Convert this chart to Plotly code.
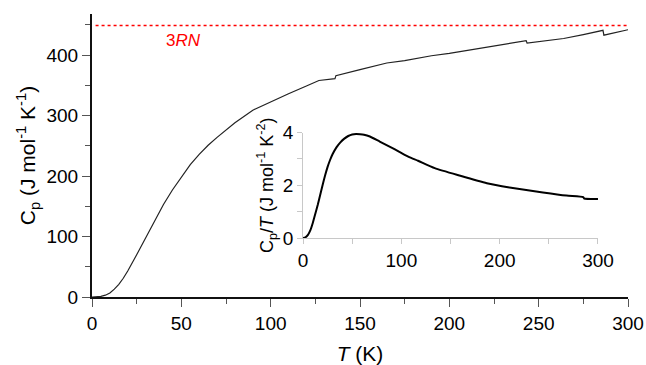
import plotly.graph_objects as go

# Heat capacity C_p(T)
temp_k = [0, 2.5, 5, 7.5, 10, 12.5, 15, 17.5, 20, 25, 30, 35, 40, 45, 50, 55, 60, 65, 70,
          80, 90, 100, 110, 120, 127, 136, 136.5, 150, 165, 175, 190, 200, 212, 225,
          243, 243.5, 264, 275, 286, 286.5, 300]
cp = [0, 0.2, 1, 3, 6.5, 13, 21, 31, 43, 70, 98, 127, 153, 177, 199, 219, 236, 251, 264,
      288, 309, 323, 336, 349, 358, 361, 366, 376, 387, 391, 399, 403, 409, 415,
      424, 420, 427.5, 434, 441, 433, 442]

# C_p / T (inset)
temp_inset = [0, 2.5, 5, 7.5, 10, 12.5, 15, 17.5, 20, 22.5, 25, 27.5, 30, 34, 38, 42, 46,
              50, 54, 58, 62, 68, 78, 88, 98, 108, 117, 134, 160, 187, 210, 244, 268,
              285, 286, 300]
cp_over_t = [0, 0.03, 0.12, 0.3, 0.58, 0.92, 1.26, 1.64, 2.02, 2.38, 2.7, 2.96, 3.18, 3.44,
             3.63, 3.77, 3.87, 3.93, 3.95, 3.94, 3.92, 3.85, 3.66, 3.47, 3.27, 3.07, 2.93,
             2.65, 2.36, 2.08, 1.92, 1.73, 1.61, 1.55, 1.50, 1.48]

# 3RN limit
limit_value = 449
limit_t = [2, 300]

x_ticks = [0, 50, 100, 150, 200, 250, 300]
y_ticks = [0, 100, 200, 300, 400]
inset_x_ticks = [0, 100, 200, 300]
inset_y_ticks = [0, 2, 4]

FONT = "Liberation Sans, Arial, sans-serif"
RED = "#ff0000"

fig = go.Figure()

fig.add_trace(go.Scatter(
    x=temp_k, y=cp, mode="lines",
    line=dict(color="#222222", width=1.2),
    xaxis="x", yaxis="y"))

fig.add_trace(go.Scatter(
    x=limit_t, y=[limit_value] * len(limit_t), mode="lines",
    line=dict(color=RED, width=1.4, dash="dot"),
    xaxis="x", yaxis="y", hoverinfo="skip"))

fig.add_trace(go.Scatter(
    x=temp_inset, y=cp_over_t, mode="lines",
    line=dict(color="#000000", width=2, shape="spline", smoothing=0.6),
    xaxis="x2", yaxis="y2"))

main_axis = dict(
    showline=True, linecolor="#111111", linewidth=2, mirror=False,
    showgrid=False, zeroline=False, automargin=False,
    ticks="outside", ticklen=8, tickwidth=1.2, tickcolor="#555555",
    tickfont=dict(family=FONT, size=19, color="#000000"),
)
inset_axis = dict(
    showline=True, linecolor="#c8c8c8", linewidth=1, mirror=False,
    showgrid=False, zeroline=False, automargin=False,
    ticks="outside", ticklen=5, tickwidth=1, tickcolor="#c8c8c8",
    tickfont=dict(family=FONT, size=19, color="#000000"),
)

fig.update_layout(
    template="none",
    width=646, height=365,
    margin=dict(l=92, r=18, t=14, b=68, pad=0),
    paper_bgcolor="white", plot_bgcolor="white",
    showlegend=False,
    font=dict(family=FONT, color="#000000"),
    xaxis=dict(
        **main_axis, range=[0, 300], domain=[0, 1],
        tickvals=x_ticks, ticktext=[str(v) for v in x_ticks],
        minor=dict(dtick=25, tick0=0, ticks="outside", ticklen=5,
                   tickcolor="#555555", tickwidth=1),
        title=dict(text="<i>T</i> (K)", font=dict(family=FONT, size=21), standoff=14),
    ),
    yaxis=dict(
        **main_axis, range=[0, 468], domain=[0, 1],
        tickvals=y_ticks, ticktext=[str(v) for v in y_ticks],
        minor=dict(dtick=50, tick0=0, ticks="outside", ticklen=5,
                   tickcolor="#555555", tickwidth=1),
        title=dict(text="C<sub>p</sub> (J mol<sup>-1</sup> K<sup>-1</sup>)",
                   font=dict(family=FONT, size=21), standoff=5),
    ),
    xaxis2=dict(
        **inset_axis, range=[0, 300], domain=[0.3937, 0.944], anchor="y2",
        tickvals=inset_x_ticks, ticktext=[str(v) for v in inset_x_ticks],
        minor=dict(dtick=50, tick0=0, ticks="outside", ticklen=5,
                   tickcolor="#c8c8c8", tickwidth=1),
    ),
    yaxis2=dict(
        **inset_axis, range=[0, 4], domain=[0.2083, 0.581], anchor="x2",
        tickvals=inset_y_ticks, ticktext=[str(v) for v in inset_y_ticks],
        minor=dict(dtick=1, tick0=0, ticks="outside", ticklen=5,
                   tickcolor="#c8c8c8", tickwidth=1),
        title=dict(text="C<sub>p</sub>/<i>T</i> (J mol<sup>-1</sup> K<sup>-2</sup>)",
                   font=dict(family=FONT, size=18), standoff=4),
    ),
    annotations=[dict(
        x=51, y=425, xref="x", yref="y", text="3<i>RN</i>", showarrow=False,
        font=dict(family=FONT, size=17, color=RED),
    )],
)

fig.write_html("out.html")
